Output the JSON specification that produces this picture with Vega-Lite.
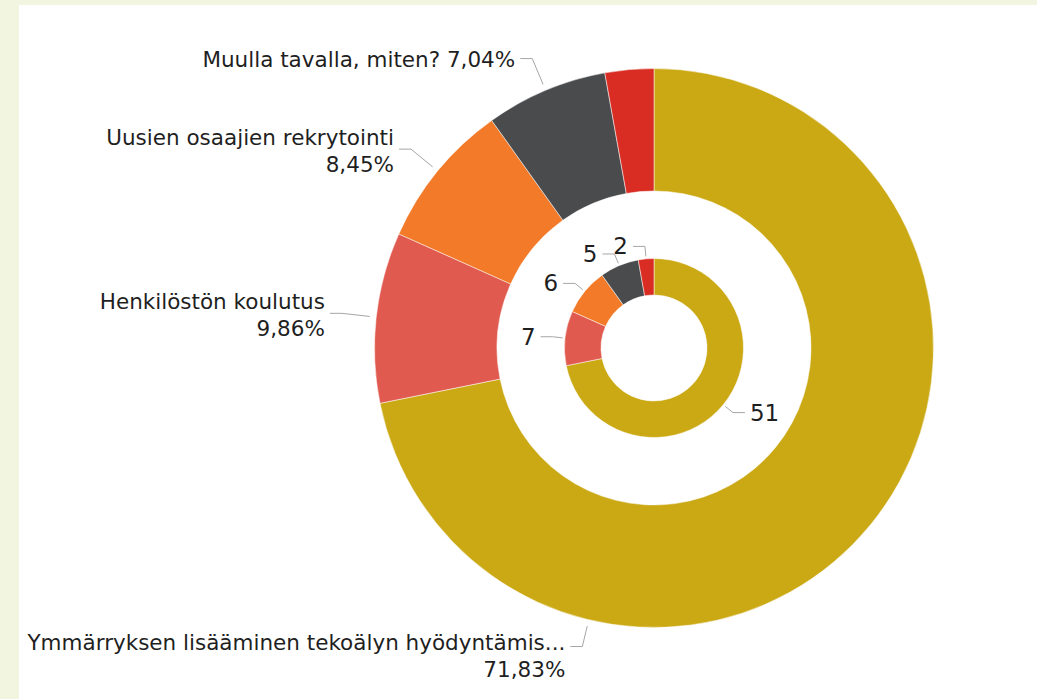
{
  "$schema": "https://vega.github.io/schema/vega-lite/v6.json",
  "width": 1018,
  "height": 694,
  "padding": {"left": 19, "top": 5, "right": 0, "bottom": 0},
  "autosize": {"type": "none"},
  "background": "#F2F5DF",
  "config": {"view": {"fill": "white", "stroke": null}, "font": "DejaVu Sans"},
  "data": {"values": [
    {"cat": "Ymmärryksen lisääminen tekoälyn hyödyntämis...", "value": 51, "order": 1},
    {"cat": "Henkilöstön koulutus", "value": 7, "order": 2},
    {"cat": "Uusien osaajien rekrytointi", "value": 6, "order": 3},
    {"cat": "Muulla tavalla, miten?", "value": 5, "order": 4},
    {"cat": "Muu", "value": 2, "order": 5}
  ]},
  "transform": [
    {"joinaggregate": [{"op": "sum", "field": "value", "as": "total"}]},
    {"window": [{"op": "sum", "field": "value", "as": "cum"}], "sort": [{"field": "order"}], "frame": [null, 0]},
    {"calculate": "2*PI*(datum.cum - datum.value/2)/datum.total", "as": "mid"},
    {"calculate": "datum.order === 1 ? 193.5*PI/180 : datum.mid", "as": "la"},
    {"calculate": "replace(format(datum.value/datum.total, '.2%'), '.', ',')", "as": "pctTxt"},
    {"calculate": "datum.order === 4 ? datum.cat + ' ' + datum.pctTxt : [datum.cat, datum.pctTxt]", "as": "olab"},
    {"calculate": "sin(datum.la) < 0 ? -1 : 1", "as": "os"},
    {"calculate": "sin(datum.mid) < 0 ? -1 : 1", "as": "is"},
    {"calculate": "286*sin(datum.la)", "as": "ox0"},
    {"calculate": "286*cos(datum.la)", "as": "oy0"},
    {"calculate": "(datum.order === 1 ? 307 : 314)*sin(datum.la)", "as": "ox1"},
    {"calculate": "(datum.order === 1 ? 307 : 314)*cos(datum.la)", "as": "oy1"},
    {"calculate": "datum.ox1 + 12*datum.os", "as": "ox2"},
    {"calculate": "datum.ox1 + 17*datum.os", "as": "olx"},
    {"calculate": "datum.order === 4 ? datum.oy1 : (datum.order === 1 ? datum.oy1 + 5 : datum.oy1 + 12)", "as": "oly"},
    {"calculate": "92*sin(datum.mid)", "as": "ix0"},
    {"calculate": "92*cos(datum.mid)", "as": "iy0"},
    {"calculate": "102*sin(datum.mid)", "as": "ix1"},
    {"calculate": "102*cos(datum.mid)", "as": "iy1"},
    {"calculate": "datum.ix1 + 12*datum.is", "as": "ix2"},
    {"calculate": "datum.ix1 + 17*datum.is", "as": "ilx"}
  ],
  "layer": [
    {
      "mark": {"type": "arc", "outerRadius": 279.5, "innerRadius": 157, "stroke": "white", "strokeWidth": 0.5},
      "encoding": {
        "x": {"datum": 0, "type": "quantitative", "scale": {"domain": [-635, 383], "nice": false, "zero": false}, "axis": null},
        "y": {"datum": 0, "type": "quantitative", "scale": {"domain": [-351, 343], "nice": false, "zero": false}, "axis": null},
        "theta": {"field": "value", "type": "quantitative", "stack": true},
        "order": {"field": "order", "type": "quantitative"},
        "color": {"field": "cat", "type": "nominal", "legend": null,
          "scale": {"domain": ["Ymmärryksen lisääminen tekoälyn hyödyntämis...", "Henkilöstön koulutus", "Uusien osaajien rekrytointi", "Muulla tavalla, miten?", "Muu"],
                    "range": ["#CBA915", "#E05A4F", "#F27A28", "#4A4B4D", "#D92D23"]}}
      }
    },
    {
      "mark": {"type": "arc", "outerRadius": 89.5, "innerRadius": 53, "stroke": "white", "strokeWidth": 0.5},
      "encoding": {
        "x": {"datum": 0, "type": "quantitative", "scale": {"domain": [-635, 383], "nice": false, "zero": false}, "axis": null},
        "y": {"datum": 0, "type": "quantitative", "scale": {"domain": [-351, 343], "nice": false, "zero": false}, "axis": null},
        "theta": {"field": "value", "type": "quantitative", "stack": true},
        "order": {"field": "order", "type": "quantitative"},
        "color": {"field": "cat", "type": "nominal", "legend": null}
      }
    },
    {
      "transform": [{"filter": "datum.order !== 5"}],
      "mark": {"type": "rule", "color": "#A6A6A6", "strokeWidth": 1},
      "encoding": {
        "x": {"field": "ox0", "type": "quantitative", "scale": {"domain": [-635, 383], "nice": false, "zero": false}, "axis": null},
        "y": {"field": "oy0", "type": "quantitative", "scale": {"domain": [-351, 343], "nice": false, "zero": false}, "axis": null},
        "x2": {"field": "ox1"},
        "y2": {"field": "oy1"}
      }
    },
    {
      "transform": [{"filter": "datum.order !== 5"}],
      "mark": {"type": "rule", "color": "#A6A6A6", "strokeWidth": 1},
      "encoding": {
        "x": {"field": "ox1", "type": "quantitative", "axis": null},
        "y": {"field": "oy1", "type": "quantitative", "axis": null},
        "x2": {"field": "ox2"}
      }
    },
    {
      "mark": {"type": "rule", "color": "#A6A6A6", "strokeWidth": 1},
      "encoding": {
        "x": {"field": "ix0", "type": "quantitative", "axis": null},
        "y": {"field": "iy0", "type": "quantitative", "axis": null},
        "x2": {"field": "ix1"},
        "y2": {"field": "iy1"}
      }
    },
    {
      "mark": {"type": "rule", "color": "#A6A6A6", "strokeWidth": 1},
      "encoding": {
        "x": {"field": "ix1", "type": "quantitative", "axis": null},
        "y": {"field": "iy1", "type": "quantitative", "axis": null},
        "x2": {"field": "ix2"}
      }
    },
    {
      "transform": [{"filter": "datum.order !== 5"}],
      "mark": {"type": "text", "align": "right", "baseline": "middle", "fontSize": 21.5, "lineHeight": 27, "dy": 2, "color": "#1F1F1F"},
      "encoding": {
        "x": {"field": "olx", "type": "quantitative", "axis": null},
        "y": {"field": "oly", "type": "quantitative", "axis": null},
        "text": {"field": "olab"}
      }
    },
    {
      "transform": [{"filter": "datum.is < 0"}],
      "mark": {"type": "text", "align": "right", "baseline": "middle", "fontSize": 23, "dy": 1, "color": "#1F1F1F"},
      "encoding": {
        "x": {"field": "ilx", "type": "quantitative", "axis": null},
        "y": {"field": "iy1", "type": "quantitative", "axis": null},
        "text": {"field": "value", "type": "quantitative"}
      }
    },
    {
      "transform": [{"filter": "datum.is > 0"}],
      "mark": {"type": "text", "align": "left", "baseline": "middle", "fontSize": 23, "dy": 1, "color": "#1F1F1F"},
      "encoding": {
        "x": {"field": "ilx", "type": "quantitative", "axis": null},
        "y": {"field": "iy1", "type": "quantitative", "axis": null},
        "text": {"field": "value", "type": "quantitative"}
      }
    }
  ]
}
